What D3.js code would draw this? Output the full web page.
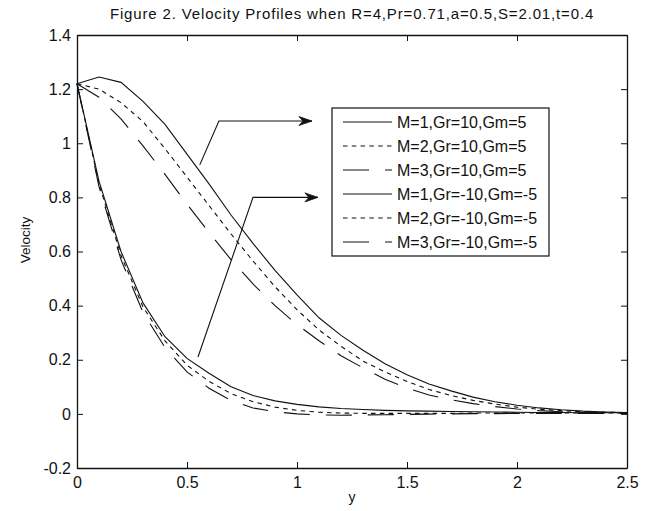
<!DOCTYPE html>
<html>
<head>
<meta charset="utf-8">
<script src="https://cdn.jsdelivr.net/npm/d3@7"></script>
<style>
  html, body { margin: 0; padding: 0; background: #fff; }
  svg { display: block; }
  text { font-family: "Liberation Sans", Arial, sans-serif; fill: #111; }
</style>
</head>
<body>
<svg id="chart" width="653" height="511"></svg>
<script>
// ---- data ----
const titleText = "Figure 2. Velocity Profiles when R=4,Pr=0.71,a=0.5,S=2.01,t=0.4";
const xLabel = "y";
const yLabel = "Velocity";
const xTicks = [0, 0.5, 1, 1.5, 2, 2.5];
const yTicks = [-0.2, 0, 0.2, 0.4, 0.6, 0.8, 1, 1.2, 1.4];
const yPos = [0, 0.1, 0.2, 0.3, 0.4, 0.5, 0.6, 0.7, 0.8, 0.9, 1.0, 1.1, 1.2, 1.3, 1.4, 1.5, 1.6, 1.7, 1.8, 1.9, 2.0, 2.1, 2.2, 2.3, 2.4, 2.5];
const seriesLabels = ["M=1,Gr=10,Gm=5", "M=2,Gr=10,Gm=5", "M=3,Gr=10,Gm=5",
                      "M=1,Gr=-10,Gm=-5", "M=2,Gr=-10,Gm=-5", "M=3,Gr=-10,Gm=-5"];
const m1Gr10 = [1.22, 1.245, 1.225, 1.155, 1.07, 0.96, 0.85, 0.735, 0.63, 0.53, 0.44, 0.355, 0.29, 0.235, 0.185, 0.145, 0.11, 0.085, 0.062, 0.045, 0.032, 0.022, 0.015, 0.01, 0.007, 0.005];
const m2Gr10 = [1.22, 1.20, 1.15, 1.08, 0.98, 0.875, 0.77, 0.665, 0.565, 0.47, 0.385, 0.31, 0.25, 0.195, 0.155, 0.12, 0.09, 0.068, 0.05, 0.036, 0.025, 0.017, 0.012, 0.008, 0.006, 0.005];
const m3Gr10 = [1.22, 1.17, 1.09, 0.99, 0.885, 0.775, 0.67, 0.57, 0.48, 0.40, 0.33, 0.27, 0.215, 0.17, 0.128, 0.095, 0.07, 0.052, 0.038, 0.027, 0.018, 0.012, 0.008, 0.005, 0.004, 0.003];
const m1GrN10 = [1.22, 0.86, 0.60, 0.41, 0.285, 0.205, 0.15, 0.10, 0.068, 0.048, 0.035, 0.026, 0.02, 0.016, 0.013, 0.011, 0.01, 0.009, 0.008, 0.007, 0.006, 0.005, 0.005, 0.004, 0.004, 0.004];
const m2GrN10 = [1.22, 0.85, 0.585, 0.395, 0.27, 0.18, 0.12, 0.075, 0.045, 0.025, 0.013, 0.006, 0.003, 0.002, 0.002, 0.002, 0.002, 0.002, 0.003, 0.003, 0.003, 0.003, 0.003, 0.003, 0.003, 0.003];
const m3GrN10 = [1.22, 0.84, 0.57, 0.375, 0.245, 0.155, 0.095, 0.05, 0.022, 0.008, 0.0, -0.004, -0.005, -0.004, -0.003, -0.002, -0.001, 0.0, 0.001, 0.001, 0.002, 0.002, 0.002, 0.002, 0.002, 0.002];
const seriesValues = [m1Gr10, m2Gr10, m3Gr10, m1GrN10, m2GrN10, m3GrN10];
// annotation arrows, in data units: foot on the curves -> elbow -> arrow tip
const arrowUpper = [[0.558, 0.92], [0.645, 1.082], [1.068, 1.082]];
const arrowLower = [[0.55, 0.21], [0.80, 0.80], [1.095, 0.80]];

// ---- styles ----
const dashStyles = [null, "4.5,4.3", "26,16", null, "4.5,4.3", "26,16"];

const svg = d3.select("#chart");
const x = d3.scaleLinear().domain([0, 2.5]).range([77, 627]);
const y = d3.scaleLinear().domain([-0.2, 1.4]).range([468, 35]);

// title
svg.append("text")
  .attr("x", 352).attr("y", 19)
  .attr("text-anchor", "middle")
  .style("font-size", "15px")
  .style("letter-spacing", "0.85px")
  .text(titleText);

// axes (ticks inside, box)
const fmt = d => String(+d.toFixed(2)); // plain hyphen-minus as in the reference
const gB = svg.append("g").attr("transform", "translate(0,468)")
  .call(d3.axisBottom(x).tickValues(xTicks).tickFormat(fmt).tickSizeInner(-6).tickSizeOuter(0).tickPadding(9));
const gT = svg.append("g").attr("transform", "translate(0,35)")
  .call(d3.axisTop(x).tickValues(xTicks).tickFormat("").tickSizeInner(-6).tickSizeOuter(0));
const gL = svg.append("g").attr("transform", "translate(77,0)")
  .call(d3.axisLeft(y).tickValues(yTicks).tickFormat(fmt).tickSizeInner(-6).tickSizeOuter(0).tickPadding(6));
const gR = svg.append("g").attr("transform", "translate(627,0)")
  .call(d3.axisRight(y).tickValues(yTicks).tickFormat("").tickSizeInner(-6).tickSizeOuter(0));
[gB, gT, gL, gR].forEach(g => {
  g.select(".domain").attr("stroke", "#111").attr("stroke-width", 1.3);
  g.selectAll(".tick line").attr("stroke", "#111").attr("stroke-width", 1);
  g.selectAll(".tick text").style("font-size", "16px").style("font-family", "Liberation Sans, Arial, sans-serif").attr("fill", "#111");
});

// axis labels
svg.append("text").attr("x", 352).attr("y", 502).attr("text-anchor", "middle")
  .style("font-size", "14px").text(xLabel);
svg.append("text").attr("transform", "translate(30,240) rotate(-90)").attr("text-anchor", "middle")
  .style("font-size", "13.5px").text(yLabel);

// curves
const line = d3.line().x((d, i) => x(yPos[i])).y(d => y(d));
seriesValues.forEach((vals, k) => {
  svg.append("path").datum(vals)
    .attr("d", line)
    .attr("fill", "none")
    .attr("stroke", "#111")
    .attr("stroke-width", 1.1)
    .attr("stroke-dasharray", dashStyles[k]);
});

// annotation arrows
function drawArrow(pts) {
  const p = pts.map(d => [x(d[0]), y(d[1])]);
  svg.append("path").attr("d", d3.line()(p))
    .attr("fill", "none").attr("stroke", "#111").attr("stroke-width", 1.1);
  const [tx, ty] = p[p.length - 1];
  svg.append("path")
    .attr("d", `M${tx},${ty} L${tx - 13},${ty - 4.5} L${tx - 9},${ty} L${tx - 13},${ty + 4.5} Z`)
    .attr("fill", "#111").attr("stroke", "#111").attr("stroke-width", 0.8);
}
drawArrow(arrowUpper);
drawArrow(arrowLower);

// legend
const lg = svg.append("g");
lg.append("rect").attr("x", 332).attr("y", 108).attr("width", 217).attr("height", 148)
  .attr("fill", "#fff").attr("stroke", "#111").attr("stroke-width", 1.2);
seriesLabels.forEach((lab, k) => {
  const cy = 122 + k * 24;
  lg.append("line").attr("x1", 343).attr("x2", 392).attr("y1", cy).attr("y2", cy)
    .attr("stroke", "#111").attr("stroke-width", 1.1)
    .attr("stroke-dasharray", dashStyles[k]);
  lg.append("text").attr("x", 397).attr("y", cy).attr("dy", "0.36em")
    .style("font-size", "16px").text(lab);
});
</script>
</body>
</html>
